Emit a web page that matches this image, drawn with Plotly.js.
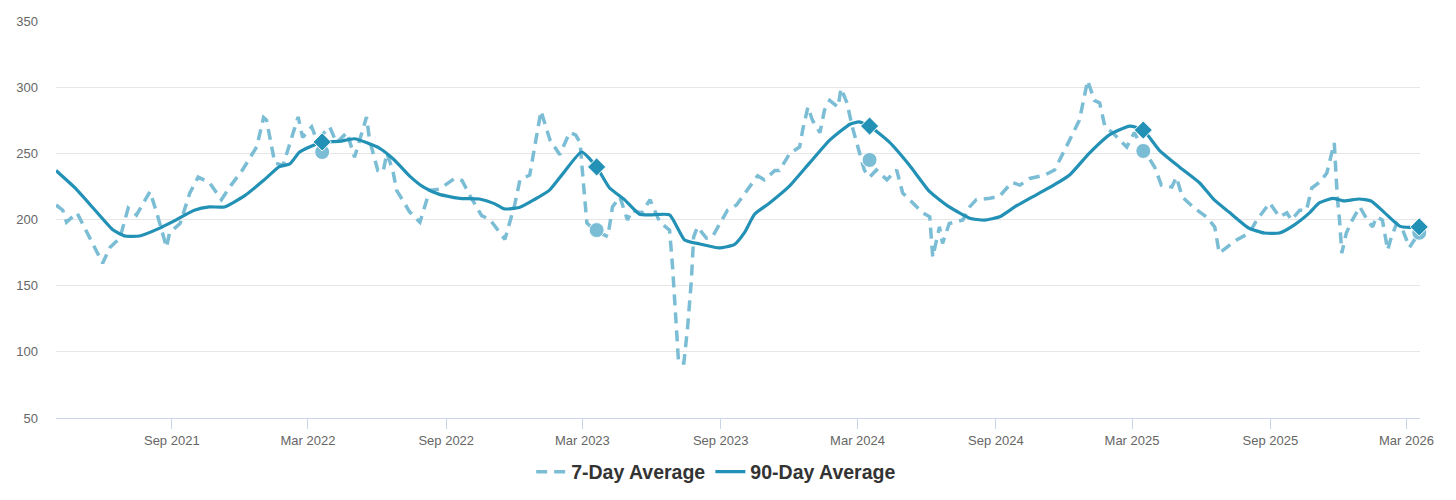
<!DOCTYPE html>
<html>
<head>
<meta charset="utf-8">
<script src="https://cdn.plot.ly/plotly-3.0.1.min.js"></script>
<style>html,body{margin:0;padding:0;background:#fff;}#chart{width:1456px;height:500px;}</style>
</head>
<body>
<div id="chart"></div>
<script>
// 7-day average
const dates7 = ["2021-03-31","2021-04-09","2021-04-14","2021-04-28","2021-06-01","2021-06-11","2021-06-24","2021-07-05","2021-07-16","2021-08-03","2021-08-12","2021-08-25","2021-08-29","2021-09-12","2021-09-25","2021-10-06","2021-10-21","2021-11-06","2021-11-17","2021-12-04","2021-12-23","2022-01-01","2022-01-05","2022-01-16","2022-01-27","2022-02-09","2022-02-16","2022-02-22","2022-03-06","2022-03-13","2022-03-30","2022-04-08","2022-04-22","2022-05-02","2022-05-18","2022-05-22","2022-06-02","2022-06-09","2022-06-14","2022-06-22","2022-06-27","2022-07-05","2022-07-14","2022-07-28","2022-08-10","2022-08-23","2022-09-12","2022-09-22","2022-10-02","2022-10-18","2022-10-29","2022-11-18","2022-12-01","2022-12-08","2022-12-21","2023-01-05","2023-01-17","2023-01-30","2023-02-12","2023-02-20","2023-02-26","2023-03-02","2023-03-07","2023-03-17","2023-04-04","2023-04-10","2023-04-20","2023-04-30","2023-05-06","2023-05-19","2023-05-30","2023-06-12","2023-06-25","2023-06-29","2023-07-04","2023-07-07","2023-07-14","2023-07-19","2023-07-24","2023-07-27","2023-08-01","2023-08-13","2023-08-21","2023-09-02","2023-09-10","2023-09-22","2023-10-09","2023-10-20","2023-10-29","2023-11-12","2023-11-18","2023-12-02","2023-12-15","2023-12-19","2023-12-26","2024-01-01","2024-01-11","2024-01-17","2024-01-24","2024-02-04","2024-02-08","2024-02-16","2024-02-23","2024-03-04","2024-03-10","2024-03-17","2024-03-26","2024-04-09","2024-04-22","2024-04-30","2024-05-13","2024-05-27","2024-06-05","2024-06-09","2024-06-18","2024-06-22","2024-07-01","2024-07-19","2024-07-28","2024-08-06","2024-08-24","2024-09-06","2024-09-22","2024-10-03","2024-10-16","2024-11-05","2024-11-18","2024-11-25","2024-12-08","2024-12-21","2025-01-01","2025-01-10","2025-01-17","2025-01-24","2025-02-03","2025-02-22","2025-03-04","2025-03-14","2025-03-31","2025-04-09","2025-04-23","2025-04-29","2025-05-07","2025-05-21","2025-06-08","2025-06-19","2025-06-25","2025-07-05","2025-07-18","2025-08-04","2025-08-14","2025-08-31","2025-09-13","2025-09-23","2025-09-29","2025-10-10","2025-10-19","2025-10-26","2025-11-05","2025-11-15","2025-11-25","2025-11-29","2025-12-02","2025-12-05","2025-12-11","2025-12-19","2025-12-29","2026-01-08","2026-01-15","2026-01-20","2026-01-28","2026-02-04","2026-02-09","2026-02-16","2026-02-24","2026-03-05","2026-03-18"];
const values7 = [211,207,198,205,167,179,186,208.6,203.4,221,205,179,190,197,220,232,228,215,224.5,237.4,255,277,275,242.7,241,265.7,277.5,262,270,260,270,258,265.7,247,277.5,260,237,236,250,237,222,214.7,206,198,222,223,231,229.5,218.5,203,200,185,211,230,233.6,282,260,249,265.7,264,258,230,197.4,192,187,209.5,217,199.6,207,205,215,198,192,164,121.8,91.5,91.5,118.7,154,186.8,194.4,186,187,199.6,207,211,224.5,233,230,237,237,250,254.8,267.6,285,275,265.7,282.7,290,285,299,288,270,250,237.4,232,237.4,230,237.4,220,212.5,205,202,171.7,194.4,182,197,199.6,209.5,215,216,217.7,228,226,231,233.6,237.4,245,260,275,305,290,288,270,265.7,254.8,265.7,255,239.7,226,224.6,232,217,209.5,202,194.4,174.6,179,184.5,189.8,199.6,212.5,202,205,199.6,207,207,223.7,228,235,257.8,217,199.6,174.6,189.8,199.6,209.5,199.6,194.4,202,199.6,177,187,197,192,179,190];

// 90-day average
const dates90 = ["2021-03-31","2021-04-25","2021-05-22","2021-06-15","2021-07-01","2021-07-20","2021-08-16","2021-09-01","2021-10-01","2021-10-21","2021-11-10","2021-12-07","2022-01-02","2022-01-22","2022-02-05","2022-02-18","2022-03-20","2022-04-12","2022-05-02","2022-06-04","2022-06-24","2022-07-14","2022-08-03","2022-08-23","2022-09-19","2022-10-15","2022-11-04","2022-11-17","2022-12-07","2022-12-27","2023-01-16","2023-02-05","2023-02-28","2023-03-20","2023-04-06","2023-04-26","2023-05-16","2023-05-30","2023-06-25","2023-07-15","2023-08-04","2023-08-30","2023-09-19","2023-10-03","2023-10-16","2023-11-05","2023-12-01","2023-12-28","2024-01-24","2024-02-20","2024-03-03","2024-03-17","2024-04-12","2024-05-09","2024-06-05","2024-07-01","2024-07-28","2024-08-17","2024-09-06","2024-09-26","2024-10-16","2024-11-11","2024-12-08","2025-01-03","2025-01-30","2025-02-26","2025-03-16","2025-04-06","2025-05-03","2025-05-30","2025-06-18","2025-07-08","2025-08-03","2025-08-24","2025-09-13","2025-10-03","2025-10-23","2025-11-05","2025-11-23","2025-12-08","2025-12-28","2026-01-13","2026-01-30","2026-02-20","2026-03-05","2026-03-18"];
const values90 = [237,224,207,192,187.5,187.5,193.5,198,207,209.5,209.5,218,230,240,242,251,258.6,259,261,254,245,233,224,219,216,215.5,212,208,209,215,222,236,251,239.7,224,215,204,203.5,203.5,184.5,181.5,178.5,181,190.5,204,212.5,225,242.6,260,272,273.7,270.6,258.6,241,221,209.5,201,199.6,202,209.5,216,224,233.6,250,264,270.6,267.6,252.5,239.7,227.6,215,205.6,193.6,189.8,189.8,196,205,212.5,216,214,215.5,214,205.6,195,194,194.4];

// Year-over-year comparison markers
const markerDates = ["2022-03-20","2023-03-20","2024-03-17","2025-03-16","2026-03-18"];
const marker7 = [251,192,245,251.8,190];
const marker90 = [258.6,239.7,270.6,267.6,194.4];

const xTicks = ["2021-09-01","2022-03-01","2022-09-01","2023-03-01","2023-09-01","2024-03-01","2024-09-01","2025-03-01","2025-09-01","2026-03-01"];
const xTickText = ["Sep 2021","Mar 2022","Sep 2022","Mar 2023","Sep 2023","Mar 2024","Sep 2024","Mar 2025","Sep 2025","Mar 2026"];
const yTicks = [50,100,150,200,250,300,350];

const c7 = "#7bbdd4", c90 = "#2291b5";

const traces = [
  {x: dates7, y: values7, type: "scatter", mode: "lines", name: "7-Day Average",
   line: {color: c7, width: 3.5, dash: "11px,7px"}, hoverinfo: "x+y"},
  {x: dates90, y: values90, type: "scatter", mode: "lines", name: "90-Day Average",
   line: {color: c90, width: 3.2, shape: "spline", smoothing: 0.5}, hoverinfo: "x+y"},
  {x: markerDates, y: marker7, type: "scatter", mode: "markers", showlegend: false, cliponaxis: false,
   marker: {color: c7, size: 15, symbol: "circle", line: {color: "#fff", width: 1}}},
  {x: markerDates, y: marker90, type: "scatter", mode: "markers", showlegend: false, cliponaxis: false,
   marker: {color: c90, size: 14, symbol: "diamond", line: {color: "#fff", width: 1}}}
];

const layout = {
  width: 1456, height: 500,
  margin: {l: 56, r: 36, t: 21, b: 82},
  paper_bgcolor: "#fff", plot_bgcolor: "#fff",
  font: {family: "Liberation Sans, Arial, sans-serif", color: "#666", size: 12},
  showlegend: true,
  legend: {orientation: "h", x: 0.484, xanchor: "center", yref: "container", y: 0.056, yanchor: "middle",
           font: {size: 19.5, color: "#333", weight: "bold"}, tracegroupgap: 0},
  xaxis: {type: "date", range: ["2021-03-31", "2026-03-19"], tickvals: xTicks, ticktext: xTickText,
          showgrid: false, zeroline: false, showline: true, linecolor: "#ccd6eb", linewidth: 1,
          ticks: "outside", ticklen: 10, tickcolor: "#ccd6eb", tickfont: {size: 13, color: "#666"}},
  yaxis: {range: [50, 350], tickvals: yTicks, showgrid: true, gridcolor: "#e6e6e6", gridwidth: 1,
          zeroline: false, showline: false, ticks: "", tickfont: {size: 13, color: "#666"}, ticklabelstandoff: 17}
};

Plotly.newPlot("chart", traces, layout, {displayModeBar: false, staticPlot: true});
</script>
</body>
</html>
